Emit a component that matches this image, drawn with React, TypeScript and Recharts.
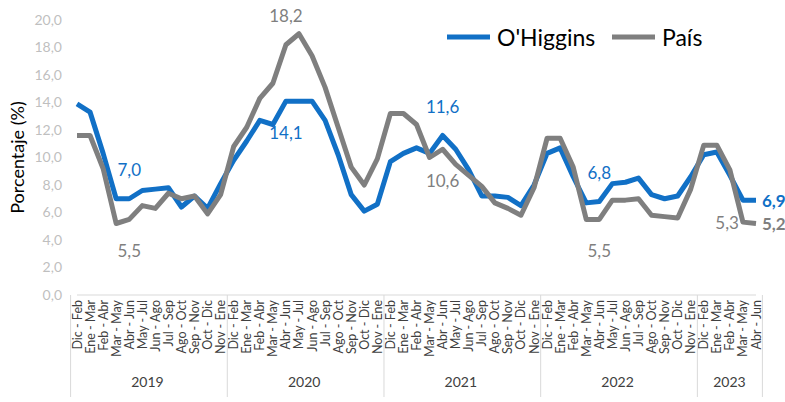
import React from 'react';
import { LineChart, Line, XAxis, YAxis, Legend } from 'recharts';

const FONT = "Lato, 'Liberation Sans', Arial, sans-serif";

const years = ['2019', '2020', '2021', '2022', '2023'];
const yearCounts = [12, 12, 12, 12, 5];
const periods = [
  'Dic - Feb', 'Ene - Mar', 'Feb - Abr', 'Mar - May', 'Abr - Jun', 'May - Jul',
  'Jun - Ago', 'Jul - Sep', 'Ago - Oct', 'Sep - Nov', 'Oct - Dic', 'Nov - Ene',
];

const ohiggins = [
  13.9, 13.3, 10.3, 7.0, 7.0, 7.6, 7.7, 7.8, 6.4, 7.2, 6.3, 8.1,
  9.8, 11.2, 12.7, 12.4, 14.1, 14.1, 14.1, 12.7, 10.2, 7.3, 6.1, 6.6,
  9.7, 10.3, 10.7, 10.3, 11.6, 10.6, 9.1, 7.2, 7.2, 7.1, 6.5, 8.0,
  10.3, 10.7, 8.6, 6.7, 6.8, 8.1, 8.2, 8.5, 7.3, 7.0, 7.2, 8.6,
  10.2, 10.4, 8.7, 6.9, 6.9,
];
const pais = [
  11.6, 11.6, 9.2, 5.2, 5.5, 6.5, 6.3, 7.4, 7.0, 7.2, 5.9, 7.3,
  10.8, 12.2, 14.3, 15.4, 18.2, 19.0, 17.4, 15.1, 12.2, 9.3, 8.0, 9.9,
  13.2, 13.2, 12.4, 10.0, 10.6, 9.5, 8.7, 7.9, 6.7, 6.3, 5.8, 7.8,
  11.4, 11.4, 9.3, 5.5, 5.5, 6.9, 6.9, 7.0, 5.8, 5.7, 5.6, 7.7,
  10.9, 10.9, 9.1, 5.3, 5.2,
];
const yTicks = [0, 2, 4, 6, 8, 10, 12, 14, 16, 18, 20];

// which points carry a data label, and where
const blueLabels = [
  { i: 4, pos: 'above' }, { i: 16, pos: 'below' }, { i: 28, pos: 'above' },
  { i: 40, pos: 'above' }, { i: 52, pos: 'right', bold: true },
];
const grayLabels = [
  { i: 4, pos: 'below' }, { i: 16, pos: 'above' }, { i: 28, pos: 'below' },
  { i: 40, pos: 'below' }, { i: 51, pos: 'left' }, { i: 52, pos: 'right', bold: true },
];

const BLUE = '#1170c6';
const GRAY = '#7f7f7f';

// build rows
const rows: any[] = [];
const groupStart: Record<number, number> = {};
let idx = 0;
years.forEach((yr, g) => {
  groupStart[idx] = g;
  for (let k = 0; k < yearCounts[g]; k++) {
    rows.push({ key: yr + '|' + periods[k], period: periods[k], year: yr, oh: ohiggins[idx], pais: pais[idx] });
    idx++;
  }
});
const N = rows.length;

const W = 785;
const H = 402;
const M = { top: 20, right: 29, left: 0, bottom: 0 };
const Y_W = 77;
const X_H = 107;
const PLOT_W = W - Y_W - M.right - M.left;

const fmt = (v: number) => v.toFixed(1).replace('.', ',');

const CatTick = (props: any) => {
  const { x, y, index, payload } = props;
  const half = payload && typeof payload.offset === 'number' && payload.offset > 0 ? payload.offset : PLOT_W / N / 2;
  const row = rows[index];
  const g = groupStart[index];
  const parts: any[] = [];
  parts.push(
    <text key="t" transform={`translate(${x},${y + 5}) rotate(-90)`} textAnchor="end" dominantBaseline="central"
      fontSize={12.5} fill="#404040" fontFamily={FONT}>{row ? row.period : ''}</text>
  );
  if (g !== undefined) {
    parts.push(<line key="s" x1={x - half} x2={x - half} y1={y} y2={y + 102} stroke="#d9d9d9" strokeWidth={1} />);
    parts.push(
      <text key="y" x={x - half + yearCounts[g] * half} y={y + 86} textAnchor="middle" dominantBaseline="central"
        fontSize={14} fill="#404040" fontFamily={FONT}>{years[g]}</text>
    );
  }
  if (index === N - 1) {
    parts.push(<line key="e" x1={x + half} x2={x + half} y1={y} y2={y + 102} stroke="#d9d9d9" strokeWidth={1} />);
  }
  return <g>{parts}</g>;
};

const makeLabel = (cfg: any[], color: string) => (props: any) => {
  const { x, y, index, value } = props;
  const c = cfg.find((d) => d.i === index);
  if (!c || x == null || y == null) return null;
  let tx = x, ty = y, anchor = 'middle';
  if (c.pos === 'above') ty = y - 29;
  else if (c.pos === 'below') ty = y + 31;
  else if (c.pos === 'left') { tx = x - 4; anchor = 'end'; }
  else if (c.pos === 'right') { tx = x + 6; anchor = 'start'; }
  return (
    <text key={'l' + index} x={tx} y={ty} textAnchor={anchor} dominantBaseline="central"
      fontSize={c.bold ? 17 : 17} fontWeight={c.bold ? 'bold' : 'normal'} fill={color} fontFamily={FONT}>
      {fmt(value)}
    </text>
  );
};

const renderLegend = (props: any) => {
  const payload = props.payload || [];
  const offs = [0, 165];
  return (
    <svg width={290} height={34} style={{ display: 'block' }}>
      {payload.map((p: any, k: number) => (
        <g key={k}>
          <line x1={offs[k]} x2={offs[k] + 43} y1={17} y2={17} stroke={p.color} strokeWidth={5} />
          <text x={offs[k] + 50} y={17} dominantBaseline="central" fontSize={23} fill="#000" fontFamily={FONT}>{p.value}</text>
        </g>
      ))}
    </svg>
  );
};

const YTitle = (props: any) => {
  const vb = props.viewBox || { x: 0, y: M.top, width: Y_W, height: H - M.top - X_H };
  const cx = vb.x + 17;
  const cy = vb.y + vb.height / 2;
  return (
    <text transform={`translate(${cx},${cy}) rotate(-90)`} textAnchor="middle" dominantBaseline="central"
      fontSize={18} fill="#000" fontFamily={FONT}>Porcentaje (%)</text>
  );
};

export default function App() {
  return (
    <div style={{ width: W, height: H, fontFamily: FONT, position: 'absolute', left: 0, top: 0 }}>
      <LineChart width={W} height={H} data={rows} margin={M} style={{ overflow: 'visible' }}>
        <XAxis dataKey="key" type="category" interval={0} height={X_H} tickSize={0} tickMargin={0}
          tickLine={false} axisLine={{ stroke: '#d9d9d9', strokeWidth: 1 }} tick={<CatTick />} />
        <YAxis domain={[0, 20]} ticks={yTicks} interval={0} width={Y_W} axisLine={false} tickLine={false}
          tickSize={0} tickMargin={15} tickFormatter={fmt}
          tick={{ fill: '#bfbfbf', fontSize: 14, fontFamily: FONT }} label={<YTitle />} />
        <Legend verticalAlign="middle" align="center" layout="horizontal" content={renderLegend}
          wrapperStyle={{ position: 'absolute', left: 447, top: 20, right: 'auto', bottom: 'auto', width: 290, height: 34 }} />
        <Line name="O'Higgins" type="linear" dataKey="oh" stroke={BLUE} strokeWidth={5} dot={false}
          activeDot={false} isAnimationActive={false} strokeLinejoin="round" label={makeLabel(blueLabels, BLUE)} />
        <Line name="País" type="linear" dataKey="pais" stroke={GRAY} strokeWidth={5} dot={false}
          activeDot={false} isAnimationActive={false} strokeLinejoin="round" label={makeLabel(grayLabels, GRAY)} />
      </LineChart>
    </div>
  );
}
